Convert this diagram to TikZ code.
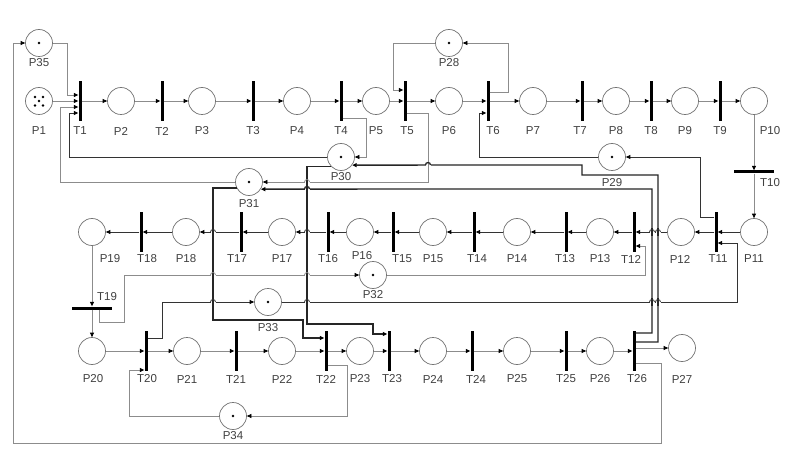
\documentclass[tikz,border=0pt]{standalone}
\usepackage{fontspec}
\setmainfont{Liberation Sans}
\usetikzlibrary{arrows.meta, calc}

\tikzset{
  gl/.style={draw=black!45, line width=0.7pt},
  dl/.style={draw=black!80, line width=0.8pt},
  tl/.style={draw=black!85, line width=1.3pt},
  pnarrow/.style={-{Triangle[length=4.5pt, width=4pt, color=black]}},
  flow/.style={gl, pnarrow},
  dflow/.style={dl, pnarrow},
  tflow/.style={tl, pnarrow},
  place/.style={circle, draw=black!55, line width=0.7pt, minimum size=27pt, inner sep=0pt},
  trans/.style={rectangle, fill=black, minimum width=3pt, minimum height=40pt, inner sep=0pt},
  htrans/.style={trans, minimum width=40pt, minimum height=3pt},
  lbl/.style={inner sep=0pt, text=black!75, font=\fontsize{11.5}{12}\selectfont},
}

\begin{document}
\begin{tikzpicture}[x=1pt, y=-1pt]
		\fill[white] (0,0) rectangle (800,457);

		% places and transitions, row by row
		\foreach \n/\x in {1/39, 2/121, 3/202, 4/297, 5/376, 6/449, 7/533, 8/616, 9/685, 10/754}
			\node[place] (P\n) at (\x,101) {};
		\foreach \n/\x in {1/80, 2/162, 3/253, 4/341, 5/405, 6/488, 7/582, 8/651, 9/720}
			\node[trans] (T\n) at (\x,101) {};
		\node[htrans] (T10) at (754,172) {};

		\foreach \n/\x in {11/754, 12/681, 13/600, 14/517, 15/433, 16/360, 17/282, 18/186, 19/92}
			\node[place] (P\n) at (\x,232) {};
		\foreach \n/\x in {11/716, 12/634, 13/566, 14/474, 15/393, 16/328, 17/241, 18/141}
			\node[trans] (T\n) at (\x,232) {};
		\node[htrans] (T19) at (92,308) {};

		\foreach \n/\x in {20/92, 21/187, 22/282, 23/360, 24/433, 25/517, 26/600}
			\node[place] (P\n) at (\x,351) {};
		\foreach \n/\x in {20/146, 21/236, 22/326, 23/389, 24/472, 25/566, 26/634}
			\node[trans] (T\n) at (\x,351) {};
		\node[place] (P27) at (682,348) {};

		% resource places
		\node[place] (P28) at (449,43) {};
		\node[place] (P29) at (612,157) {};
		\node[place] (P30) at (341,157) {};
		\node[place] (P31) at (249,182) {};
		\node[place] (P32) at (373,275) {};
		\node[place] (P33) at (268,302) {};
		\node[place] (P34) at (233,416) {};
		\node[place] (P35) at (39,43) {};

		% tokens
		\foreach \n in {28,...,35} \fill (P\n) circle (1.3pt);
		\foreach \dx/\dy in {-4/-4, 4/-4, 0/0, -4/4.5, 4/4.5}
			\fill ($(P1)+(\dx,\dy)$) circle (1.3pt);

		% labels
		\foreach \t/\x/\y in {P1/39/131, T1/80/131, P2/121/131, T2/162/131, P3/202/131, T3/253/131,
				P4/297/131, T4/341/131, P5/376/131, T5/407/131, P6/449/131, T6/493/131, P7/533/131,
				T7/580/131, P8/616/131, T8/651/131, P9/685/131, T9/720/131, P10/770/131, T10/770/183,
				P11/754/259, T11/718/259, P12/680/259, T12/631/259, P13/600/259, T13/565/259,
				P14/517/259, T14/477/259, P15/433/259, T15/402/259, P16/362/256, T16/328/259,
				P17/282/259, T17/237/259, P18/186/259, T18/147/259, P19/110/259, T19/107/297,
				P20/93/379, T20/147/379, P21/187/379, T21/236/379, P22/282/379, T22/326/379,
				P23/360/379, T23/392/379, P24/433/379, T24/476/379, P25/517/379, T25/566/379,
				P26/600/379, T26/637/379, P27/682/379, P28/449/63, P29/612/183, P30/341/177,
				P31/249/204, P32/373/295, P33/268/328, P34/233/436, P35/39/63}
			\node[lbl] (l\t) at (\x,\y) {\t};

		% main flow
		\foreach \a/\b in {P1/T1, T1/P2, P2/T2, T2/P3, P3/T3, T3/P4, P4/T4, T4/P5, P5/T5, T5/P6,
				P6/T6, T6/P7, P7/T7, T7/P8, P8/T8, T8/P9, P9/T9, T9/P10, P10/T10, T10/P11}
			\draw[flow] (\a) -- (\b);
		\foreach \a/\b in {P11/T11, T11/P12, P12/T12, T12/P13, P13/T13, T13/P14, P14/T14, T14/P15,
				P15/T15, T15/P16, P16/T16, T16/P17, P17/T17, T17/P18, P18/T18, T18/P19}
			\draw[dflow] (\a) -- (\b);
		\foreach \a/\b in {P19/T19, T19/P20, P20/T20, T20/P21, P21/T21, T21/P22, P22/T22, T22/P23,
				P23/T23, T23/P24, P24/T24, T24/P25, P25/T25, T25/P26, P26/T26}
			\draw[flow] (\a) -- (\b);
		\draw[flow] (T26.east |- P27.west) -- (P27.west);

		% side arcs
		\draw[flow] ([yshift=-12pt]T26.east) -| (661,443) -| (13,43) -- (P35.west);
		\draw[flow] (P35.east) -- (67,43) |- ([yshift=6pt]T1.west);
		\draw[flow] (P31.west) -- (60,182) |- ([yshift=-6pt]T1.west);
		\draw[dflow] (P30.west) -- (69,157) |- ([yshift=-12pt]T1.west);
		\draw[flow] ([yshift=-17pt]T4.east) -| (366,157) -- (P30.east);
		\draw[flow] ([yshift=-12pt]T5.east) -| (428,182) -- (P31.east);
		\draw[flow] ([yshift=9pt]T6.east) -| (508,43) -- (P28.east);
		\draw[flow] (P28.west) -| (393,90) -- ([yshift=11pt]T5.west);
		\draw[dflow] (P29.west) -| (479,113) -- ([yshift=-12pt]T6.west);
		\draw[dflow] ([yshift=15pt]T11.west) -| (700,157) -- (P29.east);
		\draw[tflow] ([yshift=18pt]T26.east) -| (652,189) -- (P31.-31);
		\draw[tflow] ([yshift=9pt]T26.east) -| (658,175) -| (582,165) -- (P30.-36);
		\draw[tflow] (P30.-138) -| (307,324) -| (373,334) -- ([yshift=17pt]T23.west);
		\draw[tflow] (P31.-154) -| (213,320) -| (303,338) -- ([yshift=13pt]T22.west);
		\draw[dflow] (P33.east) -- (737,302) |- ([yshift=-11pt]T11.east);
		\draw[dflow] ([yshift=13pt]T20.east) -| (162,302) -- (P33.west);
		\draw[flow] ([xshift=7pt]T19.south) -- (99,322) -| (124,275) -- (P32.west);
		\draw[flow] (P32.east) -| (645,246) -- ([yshift=-14pt]T12.east);
		\draw[flow] ([yshift=-14pt]T22.east) -| (347,416) -- (P34.east);
		\draw[flow] (P34.west) -| (129,370) -- ([yshift=-19pt]T20.west);

		% line hops
		\foreach \x/\y/\h/\v in {213/232/dl/tl, 307/232/dl/tl, 213/275/gl/tl, 307/275/gl/tl,
				213/302/dl/tl, 307/302/dl/tl, 307/182/gl/tl, 307/189/tl/tl, 428/165/tl/gl,
				652/232/dl/tl, 658/232/dl/tl, 652/302/dl/tl, 658/302/dl/tl}{
			\draw[white, line width=2.2pt] (\x-2.5,\y) -- (\x+2.5,\y);
			\draw[\v] (\x,\y-4) -- (\x,\y+4);
			\draw[\h] (\x-2.5,\y) arc[start angle=180, end angle=0, radius=2.5pt];
		}
\end{tikzpicture}
\end{document}
